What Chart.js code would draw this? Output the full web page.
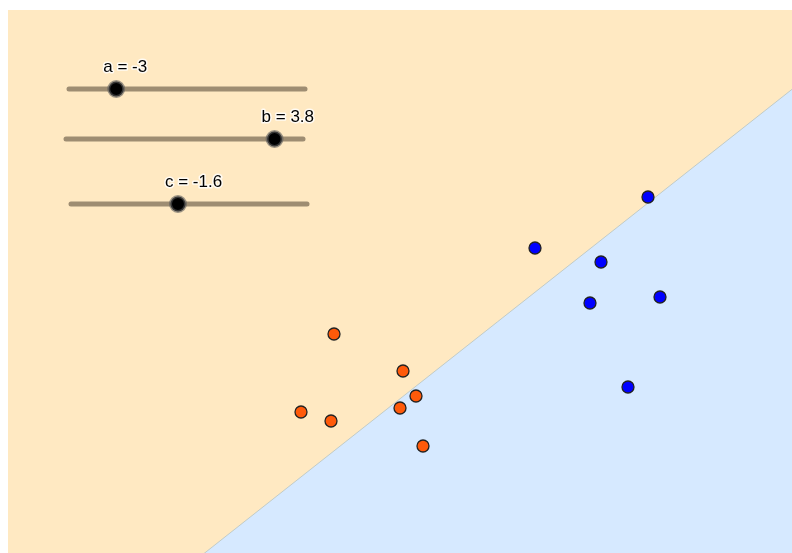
<!DOCTYPE html>
<html>
<head>
<meta charset="utf-8">
<script src="https://cdn.jsdelivr.net/npm/chart.js@4.4.1/dist/chart.umd.min.js"></script>
<style>
  html, body { margin: 0; padding: 0; background: #fff; }
  #wrap { width: 792px; height: 553px; }
</style>
</head>
<body>
<div id="wrap"><canvas id="c"></canvas></div>
<script>
// view window (data units)
const xRange = [-2.5, 5.34];
const yRange = [0, 5.43];

// slider values: a*x + b*y + c = 0
const sliderNames = ['a', 'b', 'c'];
const sliderValues = [-3, 3.8, -1.6];
const sliderMin = [-5, -5, -5];
const sliderMax = [5, 5, 2.5];

// points
const orangeX = [0.76, 1.45, 1.58, 1.42, 0.43, 0.73, 1.65];
const orangeY = [2.19, 1.82, 1.57, 1.45, 1.41, 1.32, 1.07];
const blueX = [3.90, 2.77, 3.43, 3.32, 4.02, 3.70];
const blueY = [3.56, 3.05, 2.91, 2.50, 2.56, 1.66];

// slider tracks placed in the top left of the view
const trackLeft = [-1.89, -1.92, -1.87];
const trackRight = [0.47, 0.45, 0.49];
const trackY = [4.64, 4.14, 3.49];

const ORANGE_BG = '#ffe9c2';
const BLUE_BG = '#d6e9ff';

const toPts = (xs, ys) => xs.map((x, i) => ({ x: x, y: ys[i] }));

// boundary line from a, b, c
const [a, b, c] = sliderValues;
const lineY = x => -(a * x + c) / b;
const boundary = [
  { x: xRange[0], y: lineY(xRange[0]) },
  { x: xRange[1], y: lineY(xRange[1]) }
];

const knobX = sliderValues.map((v, i) =>
  trackLeft[i] + (v - sliderMin[i]) / (sliderMax[i] - sliderMin[i]) * (trackRight[i] - trackLeft[i]));

const datasets = [];

// knobs
datasets.push({
  type: 'scatter',
  data: knobX.map((x, i) => ({ x: x, y: trackY[i] })),
  pointRadius: 7.5,
  pointBackgroundColor: '#000',
  pointBorderColor: 'rgba(90,90,90,0.6)',
  pointBorderWidth: 3,
  order: 0
});

// tracks
sliderNames.forEach((n, i) => {
  datasets.push({
    type: 'line',
    data: [{ x: trackLeft[i], y: trackY[i] }, { x: trackRight[i], y: trackY[i] }],
    borderColor: '#9e8d72',
    borderWidth: 5,
    borderCapStyle: 'round',
    pointRadius: 0,
    fill: false,
    order: 1
  });
});

datasets.push({
  type: 'scatter',
  data: toPts(orangeX, orangeY),
  pointRadius: 6,
  pointBackgroundColor: '#ff5a0a',
  pointBorderColor: '#222',
  pointBorderWidth: 1.3,
  order: 2
});
datasets.push({
  type: 'scatter',
  data: toPts(blueX, blueY),
  pointRadius: 6,
  pointBackgroundColor: '#0000ff',
  pointBorderColor: '#222',
  pointBorderWidth: 1.3,
  order: 2
});

// half plane below the line
datasets.push({
  type: 'line',
  data: boundary,
  borderColor: 'rgba(190,200,195,0.9)',
  borderWidth: 1,
  pointRadius: 0,
  fill: 'start',
  backgroundColor: BLUE_BG,
  order: 5
});

const bgPlugin = {
  id: 'bg',
  beforeDatasetsDraw(chart) {
    const { ctx, chartArea: ca } = chart;
    ctx.save();
    ctx.fillStyle = ORANGE_BG;
    ctx.fillRect(ca.left, ca.top, ca.right - ca.left, ca.bottom - ca.top);
    ctx.restore();
  }
};

const labelPlugin = {
  id: 'sliderLabels',
  afterDatasetsDraw(chart) {
    const { ctx, scales } = chart;
    ctx.save();
    ctx.font = '17px "Liberation Sans", Arial, sans-serif';
    ctx.textAlign = 'left';
    ctx.textBaseline = 'alphabetic';
    ctx.lineJoin = 'round';
    sliderNames.forEach((n, i) => {
      const px = scales.x.getPixelForValue(knobX[i]) - 13;
      const py = scales.y.getPixelForValue(trackY[i]) - 17;
      const txt = n + ' = ' + sliderValues[i];
      ctx.strokeStyle = 'rgba(255,255,255,0.8)';
      ctx.lineWidth = 3;
      ctx.strokeText(txt, px, py);
      ctx.fillStyle = '#000';
      ctx.fillText(txt, px, py);
    });
    ctx.restore();
  }
};

new Chart(document.getElementById('c'), {
  type: 'scatter',
  data: { datasets: datasets },
  options: {
    responsive: true,
    maintainAspectRatio: false,
    animation: false,
    layout: { autoPadding: false, padding: { left: 8, top: 10, right: 0, bottom: 0 } },
    plugins: { legend: { display: false }, tooltip: { enabled: false } },
    scales: {
      x: { type: 'linear', min: xRange[0], max: xRange[1], display: false },
      y: { type: 'linear', min: yRange[0], max: yRange[1], display: false }
    }
  },
  plugins: [bgPlugin, labelPlugin]
});
</script>
</body>
</html>
